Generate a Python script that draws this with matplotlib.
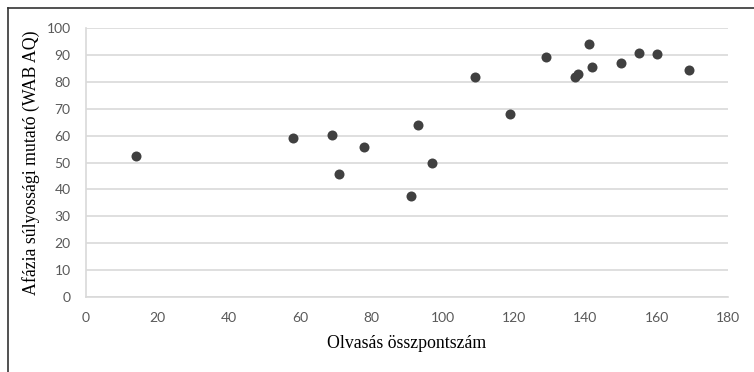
import numpy as np
import matplotlib; matplotlib.use("Agg")
import matplotlib.pyplot as plt
from matplotlib.lines import Line2D

# reading score vs aphasia severity (WAB AQ)
olvasas = [14, 58, 69, 71, 78, 91, 93, 97, 109, 119, 129, 137, 138, 141, 142, 150, 155, 160, 169]
wab_aq = [52.5, 59.0, 60.1, 45.6, 55.8, 37.4, 63.9, 49.7, 81.8, 68.0, 89.1, 81.8, 83.0, 94.1, 85.5, 87.0, 90.8, 90.3, 84.4]

X_TICKS = np.arange(0, 181, 20)
Y_TICKS = np.arange(0, 101, 10)
GRID = "#d9d9d9"; TICKC = "#595959"; DOT = "#404040"

fig = plt.figure(figsize=(7.54, 3.72), dpi=100)
ax = fig.add_axes([86 / 754, 75 / 372, 642 / 754, 269 / 372])

ax.scatter(olvasas, wab_aq, s=52, color=DOT, linewidths=0, zorder=3)

ax.set_xlim(0, 180); ax.set_ylim(0, 100)
ax.set_xticks(X_TICKS); ax.set_yticks(Y_TICKS)
ax.grid(axis="y", color=GRID, lw=1.2, zorder=0)
for s in ("top", "right"): ax.spines[s].set_visible(False)
for s in ("left", "bottom"): ax.spines[s].set_color(GRID); ax.spines[s].set_linewidth(1.2)
ax.tick_params(length=0, pad=11, labelsize=10, labelcolor=TICKC)
for lb in ax.get_xticklabels() + ax.get_yticklabels(): lb.set_family("Lato")

ax.set_xlabel("Olvasás összpontszám", family="Liberation Serif", fontsize=12.8, labelpad=8)
ax.set_ylabel("Afázia súlyossági mutató (WAB AQ)", family="Liberation Serif", fontsize=12.8, labelpad=5)

# partial frame around the figure (left + top edges)
fig.add_artist(Line2D([7.5 / 754, 7.5 / 754], [0, 1 - 7.5 / 372], transform=fig.transFigure, color="#333333", lw=1.2))
fig.add_artist(Line2D([7.5 / 754, 1], [1 - 7.5 / 372, 1 - 7.5 / 372], transform=fig.transFigure, color="#333333", lw=1.2))

fig.savefig("out.png", dpi=100)
